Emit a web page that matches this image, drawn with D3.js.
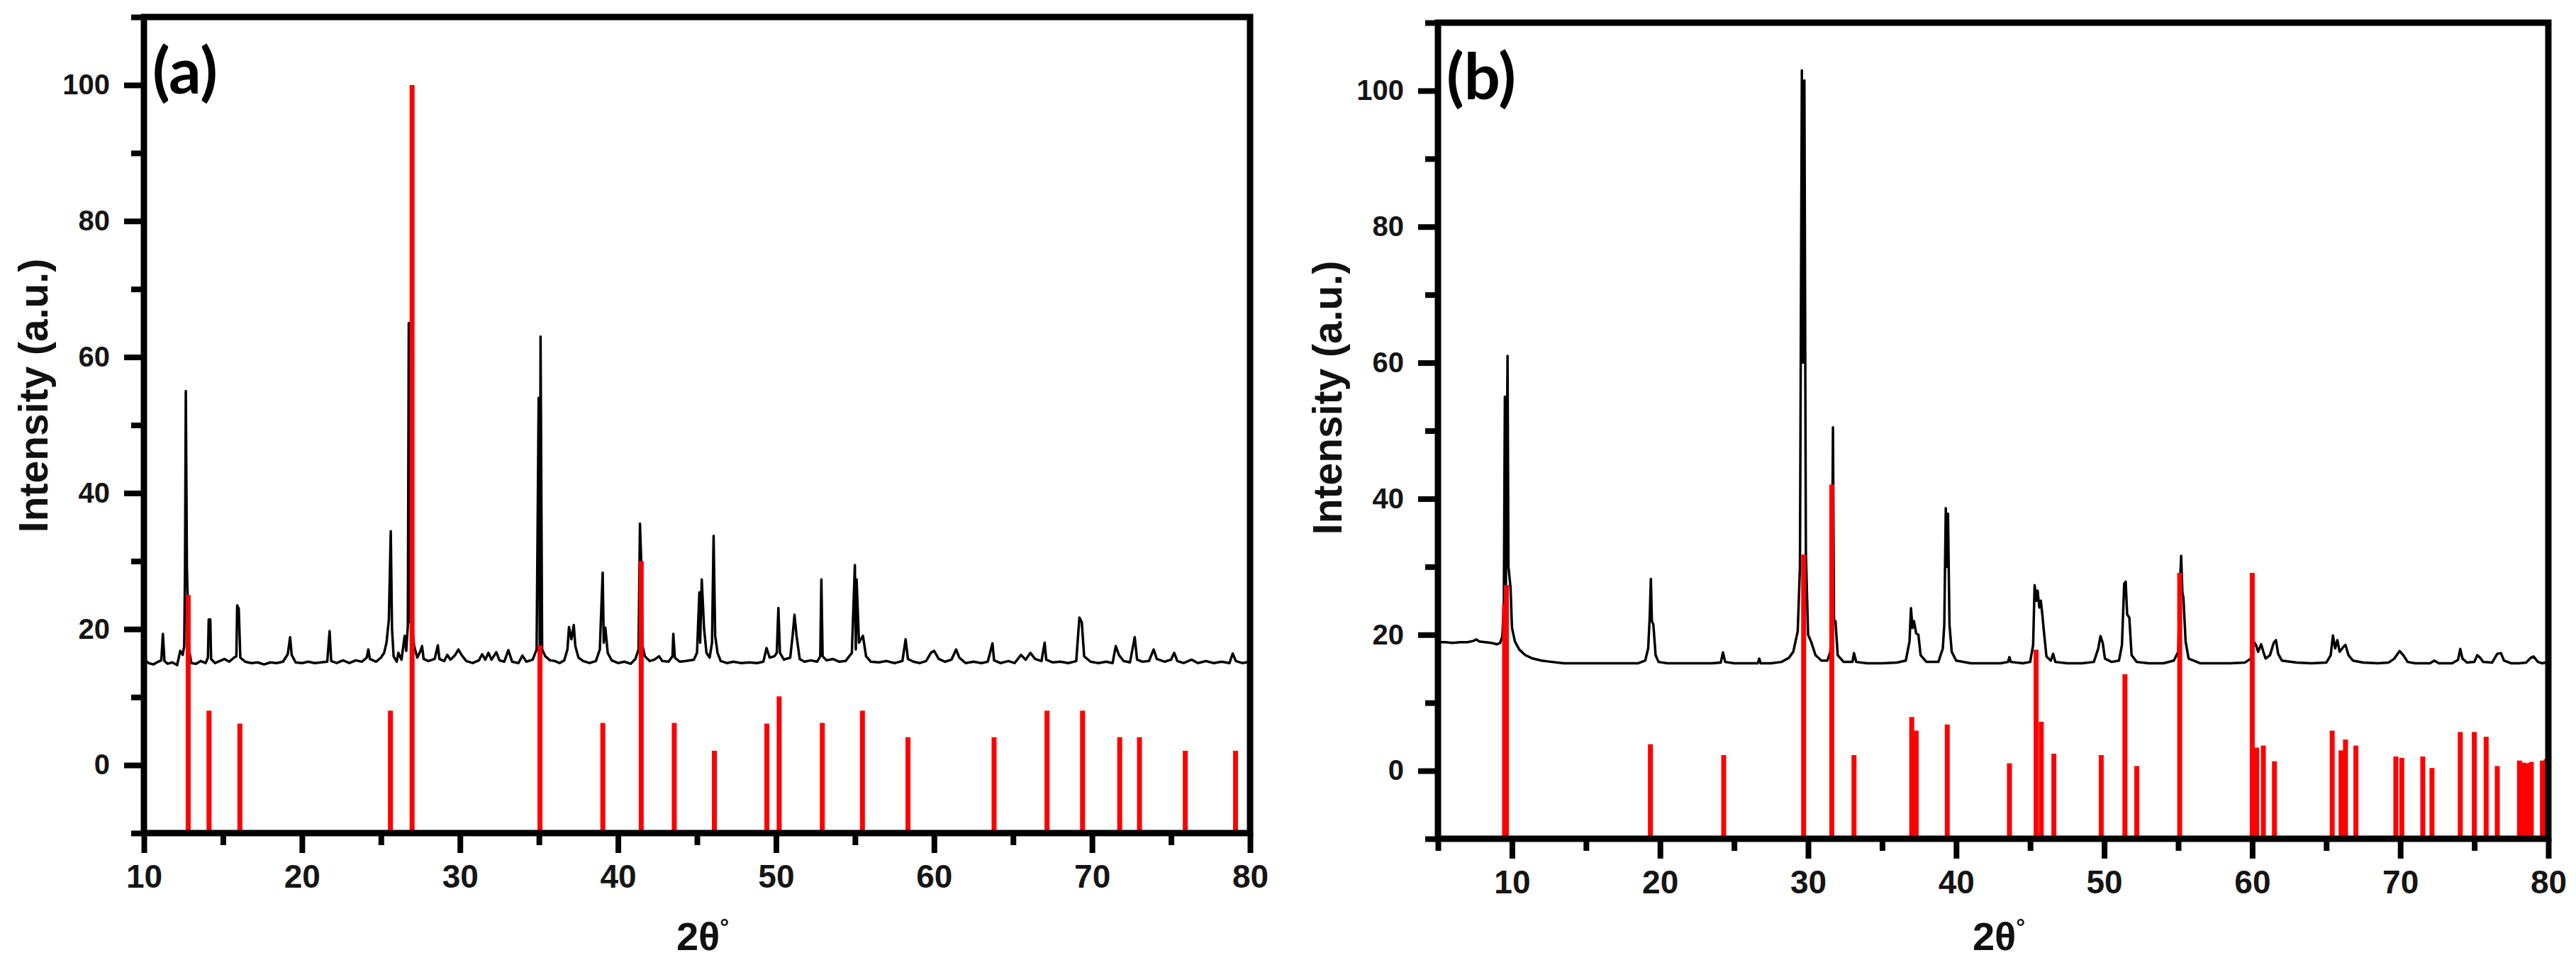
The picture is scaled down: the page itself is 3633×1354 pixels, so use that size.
<!DOCTYPE html>
<html>
<head>
<meta charset="utf-8">
<script src="https://cdn.jsdelivr.net/npm/d3@7"></script>
<style>
  body { margin: 0; background: #fff; }
  svg { display: block; }
</style>
</head>
<body>
<svg id="chart" width="3633" height="1354"></svg>
<script>
// ---------------- DATA ----------------
// Panel (a): measured pattern (black)
const patternA_2theta = [
 10.0,10.3,10.6,10.9,11.1,11.2,11.3,11.5,11.8,12.1,12.3,12.45,12.55,12.6,12.65,12.72,12.85,13.0,13.3,13.6,13.9,
 14.05,14.1,14.2,14.25,14.5,14.8,15.1,15.4,15.7,15.85,15.9,16.0,16.1,16.4,16.8,17.2,17.6,18.0,18.4,18.8,
 19.1,19.25,19.35,19.6,20.0,20.4,20.8,21.2,21.6,21.75,21.85,22.2,22.6,23.0,23.4,23.8,24.1,24.2,24.3,24.7,
 25.0,25.2,25.35,25.5,25.62,25.7,25.8,26.0,26.1,26.3,26.5,26.6,26.7,26.76,26.85,26.95,27.1,27.3,27.5,27.6,27.7,
 28.0,28.4,28.6,28.7,29.0,29.2,29.4,29.7,29.9,30.1,30.4,30.8,31.2,31.4,31.6,31.8,32.0,32.3,32.5,32.8,33.06,33.3,
 33.7,33.95,34.2,34.6,34.85,34.98,35.05,35.1,35.2,35.4,35.7,36.0,36.3,36.6,36.8,36.9,37.05,37.2,37.3,37.5,37.8,
 38.2,38.6,38.85,39.03,39.1,39.2,39.35,39.6,40.0,40.4,40.8,41.1,41.3,41.39,41.47,41.55,41.7,42.0,42.3,42.6,42.8,
 43.2,43.45,43.5,43.6,43.9,44.3,44.8,45.0,45.15,45.2,45.3,45.45,45.6,45.8,45.95,46.05,46.15,46.3,46.5,46.9,
 47.3,47.8,48.3,48.8,49.2,49.4,49.6,49.9,50.05,50.15,50.25,50.5,50.9,51.05,51.17,51.3,51.5,51.8,52.2,52.6,
 52.8,52.87,52.95,53.2,53.6,54.0,54.4,54.8,54.99,55.05,55.1,55.25,55.5,55.7,56.0,56.5,57.0,57.5,58.0,58.2,
 58.35,58.7,59.1,59.5,59.8,60.0,60.3,60.7,61.1,61.4,61.6,62.0,62.5,63.0,63.4,63.7,63.8,64.2,64.7,65.1,65.5,
 65.8,66.1,66.4,66.8,67.0,67.1,67.5,68.0,68.5,69.0,69.2,69.35,69.5,69.9,70.4,70.9,71.3,71.5,71.7,72.0,72.4,
 72.7,72.85,73.2,73.6,73.9,74.1,74.6,75.0,75.2,75.4,75.8,76.3,76.7,77.2,77.7,78.2,78.7,78.9,79.1,79.5,80.0
];
const patternA_intensity = [
 15.6,15.0,14.8,15.2,15.4,19.3,15.3,14.9,15.1,14.7,16.8,16.2,17.5,29.0,55.0,29.0,17.0,15.0,14.9,15.3,15.0,
 15.8,21.4,21.4,15.6,15.0,15.3,15.6,15.2,15.8,16.0,23.5,23.0,15.8,15.2,15.0,15.1,14.8,15.1,15.0,15.2,
 16.3,18.8,16.2,15.1,15.0,15.2,15.0,15.1,15.2,19.7,15.3,15.0,15.4,15.0,15.4,15.2,15.8,17.0,15.6,15.2,
 15.8,16.5,18.0,21.4,34.4,20.0,16.0,15.2,16.5,15.5,19.0,16.8,20.5,65.0,21.0,21.0,17.5,15.8,16.8,17.5,15.6,
 15.3,15.6,17.6,15.6,15.3,16.2,15.5,16.2,17.0,16.2,15.3,15.0,15.4,16.3,15.5,16.5,15.5,16.6,15.4,15.2,16.9,15.2,
 15.0,16.1,15.2,15.5,17.0,54.0,17.5,63.0,17.0,16.0,15.4,15.3,15.0,15.4,17.0,20.3,18.5,20.6,17.5,15.8,15.3,
 15.0,15.3,17.0,28.3,18.0,20.2,16.5,15.4,15.0,15.2,14.9,15.6,17.0,35.5,30.0,17.5,16.0,15.3,15.5,16.0,15.3,
 15.2,16.0,19.3,15.8,15.2,15.3,15.5,16.5,25.4,18.0,27.3,20.0,16.5,15.8,18.0,33.7,19.0,16.5,15.3,15.0,
 15.2,15.0,15.1,15.0,15.2,17.2,15.8,16.0,16.5,23.1,16.5,15.5,15.8,19.0,22.1,19.0,15.6,15.2,15.4,15.2,
 16.0,27.3,16.0,15.4,15.6,15.2,15.3,16.5,29.4,17.0,27.3,18.0,19.0,16.0,15.2,15.1,15.3,15.0,15.3,18.5,
 15.6,15.2,15.0,15.3,16.5,16.8,15.6,15.2,15.5,17.0,15.8,15.0,15.2,15.0,15.2,17.9,15.4,15.0,15.3,15.0,16.2,
 15.5,16.5,15.6,15.3,18.0,15.5,15.1,15.2,15.0,15.3,21.7,21.0,16.0,15.2,15.0,15.2,15.0,17.5,16.2,15.3,15.1,
 18.8,15.5,15.2,15.3,17.0,15.6,15.2,15.5,16.5,15.3,15.0,15.5,15.0,15.3,15.0,15.2,15.0,16.4,15.3,15.0,15.2
];
// Panel (a): reference stick pattern (red)
const refA_2theta    = [12.8, 14.12, 16.07, 25.6, 26.97, 35.06, 39.04, 41.47, 43.56, 46.1, 49.42, 50.2, 52.93, 55.47, 58.35, 63.8, 67.15, 69.4, 71.75, 73.0, 75.9, 79.08];
const refA_intensity = [25.0, 8.0, 6.1, 8.0, 100.0, 17.6, 6.2, 30.0, 6.2, 2.1, 6.1, 10.1, 6.2, 8.0, 4.1, 4.1, 8.0, 8.0, 4.1, 4.1, 2.1, 2.1];

// Panel (b): measured pattern (black)
const patternB_2theta = [
 5.0,5.5,6.0,6.5,7.0,7.4,7.6,7.8,8.2,8.6,9.0,9.2,9.35,9.45,9.52,9.58,9.7,9.76,9.9,10.0,10.2,10.5,10.9,11.4,12.0,
 12.7,13.5,14.5,15.5,16.5,17.5,18.5,19.0,19.2,19.3,19.38,19.45,19.55,19.7,19.9,20.5,21.5,22.5,23.5,24.1,24.25,
 24.4,25.0,26.0,26.6,26.7,26.8,27.5,28.2,28.7,29.0,29.3,29.45,29.58,29.65,29.75,29.85,30.0,30.2,30.5,30.9,31.3,
 31.5,31.6,31.68,31.75,31.85,32.0,32.4,33.0,33.1,33.25,34.0,35.0,36.0,36.6,36.85,36.95,37.05,37.15,37.3,37.45,
 37.6,38.0,38.8,39.1,39.2,39.3,39.38,39.45,39.55,39.7,40.0,41.0,42.0,43.0,43.5,43.6,43.7,44.5,45.0,45.2,45.3,
 45.42,45.5,45.62,45.72,45.82,45.95,46.1,46.4,46.55,46.7,47.5,48.5,49.3,49.6,49.75,49.9,50.05,50.5,51.0,51.2,
 51.35,51.45,51.55,51.7,51.85,52.2,53.0,54.0,54.7,55.0,55.1,55.2,55.28,55.35,55.5,55.7,56.5,57.5,58.5,59.5,
 59.9,60.1,60.25,60.4,60.6,60.75,60.9,61.2,61.45,61.6,61.75,62.0,63.0,64.0,65.0,65.3,65.45,65.6,65.75,65.9,
 66.15,66.3,66.5,66.8,67.5,68.5,69.2,69.6,69.95,70.2,70.5,71.0,72.0,72.3,72.6,73.5,73.9,74.05,74.2,74.5,75.0,
 75.2,75.4,75.6,76.2,76.55,76.8,77.0,77.5,78.0,78.5,78.8,79.0,79.3,79.6,80.0
];
const patternB_intensity = [
 18.9,18.9,18.8,18.9,18.9,19.1,19.3,19.0,18.9,18.8,18.6,18.8,19.8,24.5,55.0,25.0,61.0,30.0,27.0,21.0,19.0,17.8,17.0,16.5,16.2,
 16.0,15.8,15.8,15.8,15.8,15.8,15.8,16.2,18.0,22.5,28.2,22.0,21.5,17.0,16.0,15.8,15.8,15.8,15.8,15.9,17.4,
 16.0,15.8,15.8,15.8,16.5,15.8,15.8,16.0,16.6,17.5,20.5,30.0,103.0,60.0,101.5,32.0,20.0,19.0,17.0,16.2,16.2,
 17.5,22.0,50.5,22.0,22.0,17.0,16.0,16.0,17.3,16.0,15.8,15.8,15.9,16.2,19.0,23.9,21.0,22.0,20.2,20.0,
 17.0,16.0,16.0,18.0,21.5,38.6,30.0,37.8,21.5,17.5,16.2,15.8,15.8,15.8,16.0,16.7,16.0,15.8,16.0,18.5,27.3,
 25.0,26.5,24.0,25.0,23.0,20.0,16.8,16.2,17.2,16.0,15.8,15.8,16.0,18.0,19.8,18.8,16.5,16.0,16.2,18.5,
 27.5,27.8,23.0,22.5,17.0,16.0,15.8,15.8,16.2,17.5,26.5,31.6,26.2,25.5,19.0,16.5,15.8,15.8,15.8,15.9,
 16.5,19.0,18.5,17.5,18.6,17.5,16.5,17.0,18.8,19.2,17.2,16.2,15.9,15.8,15.9,17.0,19.9,18.0,19.2,17.5,
 18.2,18.5,17.0,16.2,15.9,15.8,15.9,16.5,17.6,17.0,16.0,15.8,15.8,16.2,15.8,15.8,16.3,17.9,16.5,15.9,16.0,
 17.0,16.6,16.0,15.9,17.2,17.3,16.2,15.8,15.8,15.9,16.6,16.8,16.0,15.8,16.0
];
// Panel (b): reference stick pattern (red)
const refB_2theta    = [9.5, 9.62, 19.35, 24.3, 29.7, 31.6, 33.1, 37.0, 37.3, 39.4, 43.6, 45.4, 45.75, 46.6, 49.8, 51.4, 52.2, 55.1, 60.0, 60.3, 60.75, 61.5, 65.4, 66.0, 66.3, 67.0, 69.7, 70.1, 71.52, 72.14, 74.05, 75.0, 75.8, 76.55, 78.05, 78.3, 78.55, 78.85, 79.6, 79.85];
const refB_intensity = [24.5, 27.3, 3.9, 2.3, 31.8, 42.1, 2.3, 7.9, 5.9, 6.8, 1.1, 17.8, 7.2, 2.5, 2.3, 14.2, 0.7, 29.1, 29.1, 3.4, 3.7, 1.4, 5.9, 3.0, 4.6, 3.7, 2.1, 1.9, 2.1, 0.4, 5.7, 5.7, 5.0, 0.7, 1.5, 1.2, 1.1, 1.3, 1.5, 1.7];

// Axis ticks and labels
const xMajorTicksA = [10, 20, 30, 40, 50, 60, 70, 80];
const xMinorTicksA = [15, 25, 35, 45, 55, 65, 75];
const xMajorTicksB = [10, 20, 30, 40, 50, 60, 70, 80];
const xMinorTicksB = [5, 15, 25, 35, 45, 55, 65, 75];
const yMajorTicks = [0, 20, 40, 60, 80, 100];
const yMinorTicks = [-10, 10, 30, 50, 70, 90, 110];
const panelLabels = ["(a)", "(b)"];
const xTitle = "2θ";
const xTitleSup = "°";
const yTitle = "Intensity (a.u.)";

// ---------------- DRAWING ----------------
const svg = d3.select("#chart");
svg.append("rect").attr("width", 3633).attr("height", 1354).attr("fill", "#fff");

const FONT = "'Liberation Sans', Arial, Helvetica, sans-serif";

function drawPanel(p) {
  const x = d3.scaleLinear().domain(p.xDomain).range([p.left, p.right]);
  const y = d3.scaleLinear().domain([-10, 110]).range([p.bottom, p.top]);
  const g = svg.append("g");

  // measured pattern
  const line = d3.line().x((d, i) => x(p.px[i])).y((d, i) => y(p.py[i]));
  g.append("path")
    .datum(p.px)
    .attr("d", line)
    .attr("fill", "none")
    .attr("stroke", "#000")
    .attr("stroke-width", 3.5)
    .attr("stroke-linejoin", "round");

  // reference sticks
  const bw = 7;
  g.append("g").selectAll("rect")
    .data(p.rx.map((v, i) => ({ t: v, h: p.ry[i] })))
    .join("rect")
    .attr("x", d => x(d.t) - bw / 2)
    .attr("y", d => y(d.h))
    .attr("width", bw)
    .attr("height", d => y(-10) - y(d.h))
    .attr("fill", "#ff0000");

  // axes
  function styleAxis(sel, fs) {
    sel.select(".domain").remove();
    sel.selectAll(".tick line").attr("stroke", "#000").attr("stroke-width", 8);
    sel.selectAll(".tick text")
      .attr("font-family", FONT)
      .attr("font-weight", "bold")
      .attr("font-size", fs)
      .attr("fill", "#151515");
  }
  const gxMin = g.append("g").attr("transform", `translate(0,${p.bottom})`)
    .call(d3.axisBottom(x).tickValues(p.xMinor).tickSize(17).tickFormat(""));
  styleAxis(gxMin, 46);
  const gx = g.append("g").attr("transform", `translate(0,${p.bottom})`)
    .call(d3.axisBottom(x).tickValues(p.xMajor).tickSize(28).tickPadding(16).tickFormat(d3.format("d")));
  styleAxis(gx, 46);

  const gyMin = g.append("g").attr("transform", `translate(${p.left},0)`)
    .call(d3.axisLeft(y).tickValues(yMinorTicks).tickSize(18).tickFormat(""));
  styleAxis(gyMin, 40);
  const gy = g.append("g").attr("transform", `translate(${p.left},0)`)
    .call(d3.axisLeft(y).tickValues(yMajorTicks).tickSize(28).tickPadding(20).tickFormat(d3.format("d")));
  styleAxis(gy, 40);

  // frame
  g.append("rect")
    .attr("x", p.left).attr("y", p.top)
    .attr("width", p.right - p.left).attr("height", p.bottom - p.top)
    .attr("fill", "none").attr("stroke", "#000").attr("stroke-width", 9);

  // panel label
  g.append("text")
    .attr("x", p.left + 12).attr("y", p.top + 108)
    .attr("font-family", "Lato, 'Open Sans', sans-serif")
    .attr("font-weight", "bold")
    .attr("font-size", 90)
    .attr("fill", "#000")
    .text(p.label);

  // y title
  g.append("text")
    .attr("transform", `translate(${p.left - 136},${p.yTitleY}) rotate(-90)`)
    .attr("text-anchor", "middle")
    .attr("font-family", FONT)
    .attr("font-weight", "bold")
    .attr("font-size", 57)
    .attr("fill", "#111")
    .text(yTitle);

  // x title
  const xt = g.append("text")
    .attr("x", (p.left + p.right) / 2 + 8)
    .attr("y", 1340)
    .attr("text-anchor", "middle")
    .attr("font-family", FONT)
    .attr("font-weight", "bold")
    .attr("font-size", 56)
    .attr("fill", "#111");
  xt.append("tspan").text(xTitle);
  xt.append("tspan").attr("font-size", 32).attr("dy", -22).text(xTitleSup);
}

drawPanel({
  left: 203, right: 1763, top: 24, bottom: 1175,
  xDomain: [10, 80], xMajor: xMajorTicksA, xMinor: xMinorTicksA,
  px: patternA_2theta, py: patternA_intensity,
  rx: refA_2theta, ry: refA_intensity,
  label: panelLabels[0], yTitleY: 558
});
drawPanel({
  left: 2028, right: 3594, top: 32, bottom: 1183,
  xDomain: [5, 80], xMajor: xMajorTicksB, xMinor: xMinorTicksB,
  px: patternB_2theta, py: patternB_intensity,
  rx: refB_2theta, ry: refB_intensity,
  label: panelLabels[1], yTitleY: 561
});
</script>
</body>
</html>
